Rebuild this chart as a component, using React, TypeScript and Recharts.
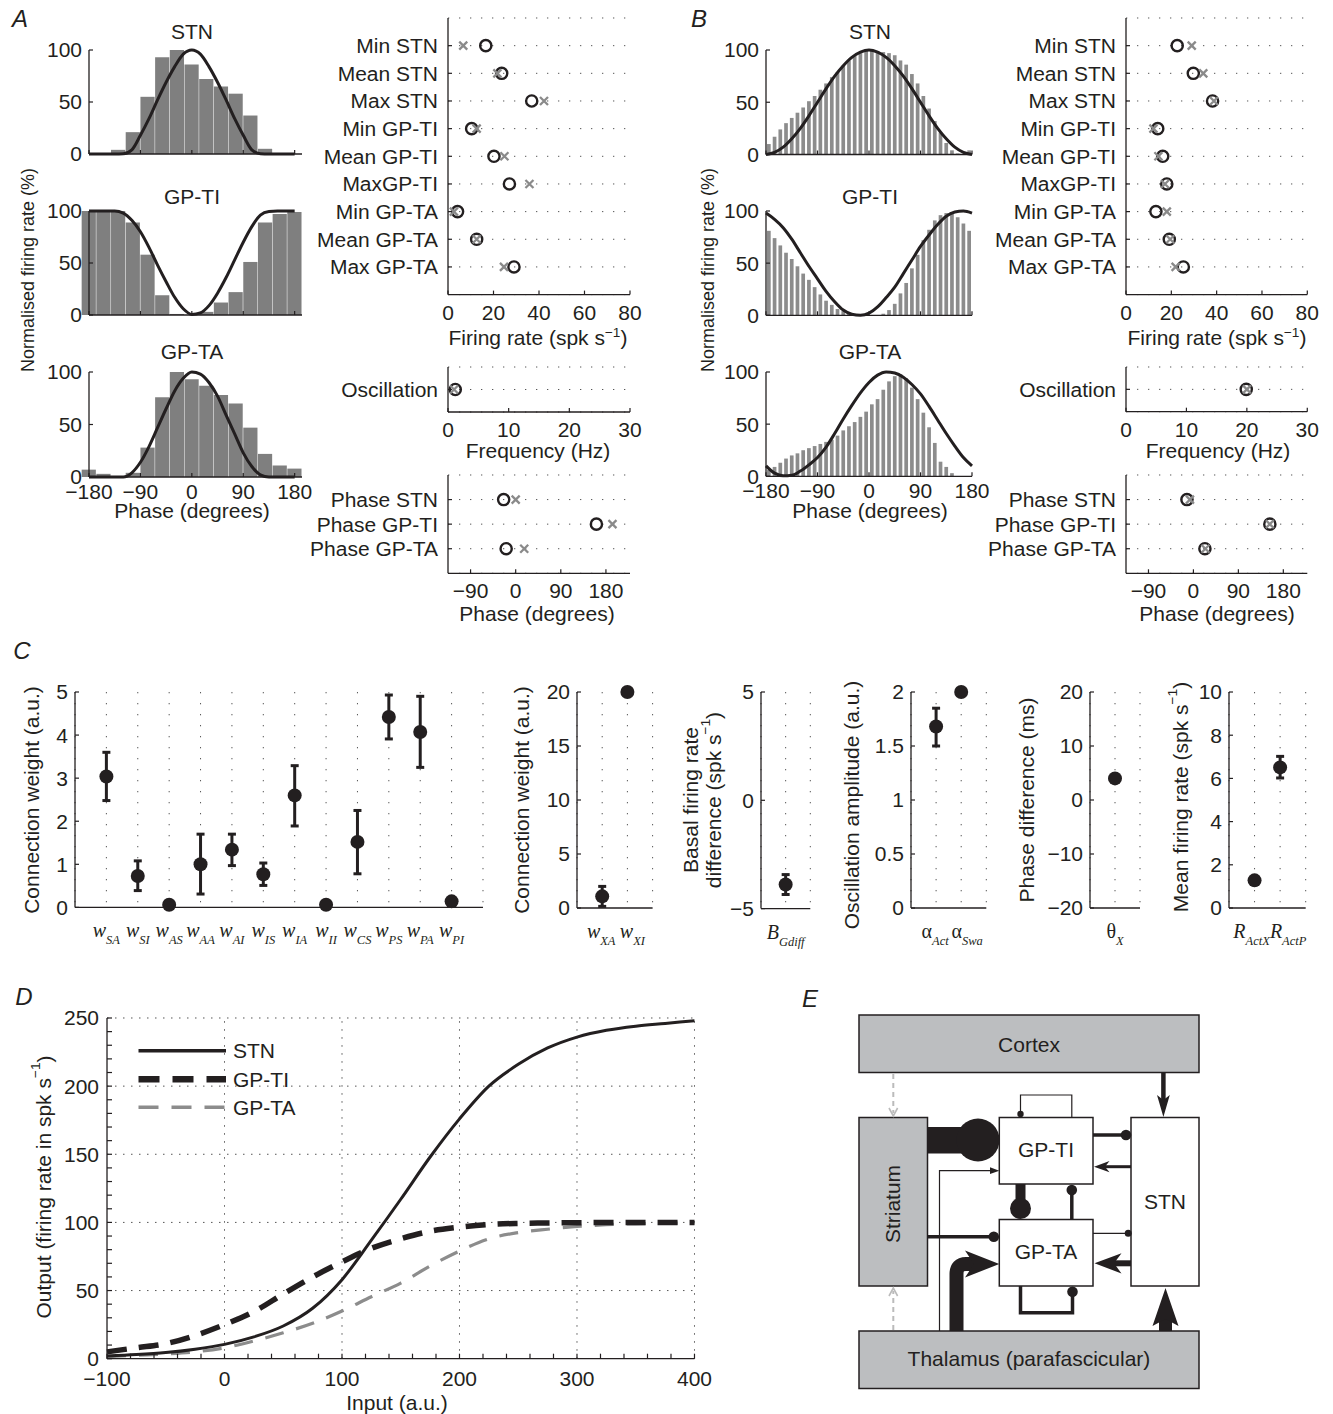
import React from "react";
import {
  Bar,
  BarChart,
  CartesianGrid,
  ErrorBar,
  Line,
  LineChart,
  ReferenceLine,
  Scatter,
  ScatterChart,
  XAxis,
  YAxis,
} from "recharts";

const FONT = "'Liberation Sans', Arial, Helvetica, sans-serif";
const SERIF = "'Liberation Serif', 'Times New Roman', serif";
const INK = "#231f20";
const BAR_A = "#7f7f7f";
const BAR_B = "#8c8c8c";
const CROSS = "#8a8a8a";
const DOTS = "#555";
const E_GREY = "#bcbec0";

// ---------- A / B: phase histograms + fitted curves ----------
const BIN_A = [-180, -154.3, -128.6, -102.9, -77.1, -51.4, -25.7, 0, 25.7, 51.4, 77.1, 102.9, 128.6, 154.3, 180];
const BIN_B = [
  -175, -165, -155, -145, -135, -125, -115, -105, -95, -85, -75, -65, -55, -45, -35, -25, -15, -5,
  5, 15, 25, 35, 45, 55, 65, 75, 85, 95, 105, 115, 125, 135, 145, 155, 165, 175,
];
const FIT_X = [-180, -165, -150, -135, -120, -105, -90, -75, -60, -45, -30, -15, 0, 15, 30, 45, 60, 75, 90, 105, 120, 135, 150, 165, 180];
const PHASE_TICKS = [-180, -90, 0, 90, 180];

const A_STN_HIST = [0, 0, 4, 21, 55, 93, 100, 86, 72, 65, 58, 37, 5, 0, 0];
const A_STN_FIT = [0, 0, 0, 0, 0.2, 4, 18, 34, 52, 69, 84, 96, 100, 96, 84, 69, 52, 34, 18, 4, 0.2, 0, 0, 0, 0];
const A_GPTI_HIST = [100, 100, 100, 89, 58, 19, 1, 0, 3, 12, 22, 51, 89, 97, 99];
const A_GPTI_FIT = [100, 100, 100, 100, 98, 91, 80, 65, 48, 32, 17, 6, 0.5, 2, 9, 21, 36, 53, 70, 85, 96, 99.5, 100, 100, 100];
const A_GPTA_HIST = [7, 3, 0, 4, 28, 76, 100, 93, 87, 78, 70, 47, 22, 11, 8];
const A_GPTA_FIT = [0, 0, 0, 0, 0, 4, 14, 29, 47, 65, 82, 94, 100, 98, 90, 77, 59, 41, 23, 10, 2, 0, 0, 0, 0];

const B_STN_HIST = [
  10, 17, 24, 30, 35, 40, 45, 51, 56, 62, 68, 74, 79, 85, 90, 95, 97, 99,
  100, 99, 98, 97, 95, 90, 86, 77, 68, 56, 44, 32, 21, 11, 4, 1, 0, 4,
];
const B_STN_FIT = [0, 2, 7, 15, 25, 37, 50, 63, 75, 85, 93, 98, 100, 98, 93, 85, 75, 63, 50, 37, 25, 15, 7, 2, 0];
const B_GPTI_HIST = [
  81, 74, 67, 60, 54, 47, 40, 34, 27, 20, 14, 10, 6, 4, 2, 1, 0.3, 0,
  0, 0, 1.5, 5, 11, 21, 31, 45, 58, 72, 82, 91, 96, 98, 99, 94, 88, 81,
];
const B_GPTI_FIT = [98, 92, 84, 73, 60, 47, 35, 23, 13, 5, 1, 0, 2, 8, 17, 27, 40, 53, 66, 77, 87, 95, 99, 100, 98];
const B_GPTA_HIST = [
  6, 9, 13, 17, 20, 22, 25, 27, 29, 31, 33, 35, 39, 44, 48, 52, 57, 62,
  69, 74, 83, 91, 96, 98, 94, 85, 74, 61, 47, 32, 14, 9, 3, 0, 0, 0,
];
const B_GPTA_FIT = [10, 3, 0.5, 1, 5, 11, 18, 28, 41, 55, 68, 80, 90, 97, 100, 99, 95, 88, 79, 67, 54, 41, 29, 18, 10];

// ---------- A / B: model (circles) vs experiment (crosses) ----------
const ROWS_RATE = ["Min STN", "Mean STN", "Max STN", "Min GP-TI", "Mean GP-TI", "MaxGP-TI", "Min GP-TA", "Mean GP-TA", "Max GP-TA"];
const ROWS_OSC = ["Oscillation"];
const ROWS_PHASE = ["Phase STN", "Phase GP-TI", "Phase GP-TA"];
const RATE_TICKS = [0, 20, 40, 60, 80];
const OSC_TICKS = [0, 10, 20, 30];
const PH_TICKS = [-90, 0, 90, 180];

const A_RATE_MODEL = [16.6, 23.6, 36.8, 10.4, 20.2, 27.0, 4.2, 12.6, 29.0];
const A_RATE_EXP = [6.7, 21.7, 42.2, 12.6, 24.8, 35.8, 2.6, 12.6, 24.6];
const A_OSC_MODEL = [1.2];
const A_OSC_EXP = [1.0];
const A_PHASE_MODEL = [-24, 161, -19];
const A_PHASE_EXP = [0, 193, 17];

const B_RATE_MODEL = [22.6, 29.7, 38.2, 14.0, 16.2, 18.0, 13.2, 19.1, 25.3];
const B_RATE_EXP = [29.0, 34.1, 38.8, 12.1, 14.3, 17.2, 18.0, 19.5, 21.9];
const B_OSC_MODEL = [19.9];
const B_OSC_EXP = [20.0];
const B_PHASE_MODEL = [-13, 153, 23];
const B_PHASE_EXP = [-7, 153, 24];

// ---------- C: fitted parameters ----------
const C1_LABELS = [["w", "SA"], ["w", "SI"], ["w", "AS"], ["w", "AA"], ["w", "AI"], ["w", "IS"], ["w", "IA"], ["w", "II"], ["w", "CS"], ["w", "PS"], ["w", "PA"], ["w", "PI"]];
const C1_MEAN = [3.04, 0.73, 0.06, 1.0, 1.34, 0.77, 2.6, 0.06, 1.52, 4.42, 4.07, 0.14];
const C1_LOW = [2.48, 0.39, 0.06, 0.31, 0.97, 0.51, 1.89, 0.06, 0.78, 3.91, 3.25, 0.14];
const C1_HIGH = [3.6, 1.08, 0.06, 1.7, 1.7, 1.03, 3.29, 0.06, 2.25, 4.93, 4.9, 0.14];

const C2_LABELS = [["w", "XA"], ["w", "XI"]];
const C2_MEAN = [1.08, 20];
const C2_LOW = [0.15, 20];
const C2_HIGH = [2.0, 20];

const C3_LABELS = [["B", "Gdiff"]];
const C3_MEAN = [-3.89];
const C3_LOW = [-4.35];
const C3_HIGH = [-3.43];

const C4_LABELS = [["α", "Act"], ["α", "Swa"]];
const C4_MEAN = [1.68, 2.0];
const C4_LOW = [1.5, 2.0];
const C4_HIGH = [1.85, 2.0];

const C5_LABELS = [["θ", "X"]];
const C5_MEAN = [4.0];
const C5_LOW = [4.0];
const C5_HIGH = [4.0];

const C6_LABELS = [["R", "ActX"], ["R", "ActP"]];
const C6_MEAN = [1.28, 6.51];
const C6_LOW = [1.28, 6.02];
const C6_HIGH = [1.28, 7.02];

// ---------- D: transfer functions ----------
const D_INPUT = [-100, -75, -50, -25, 0, 25, 50, 75, 100, 125, 150, 175, 200, 225, 250, 275, 300, 325, 350, 375, 400];
const D_STN = [2, 3, 4.5, 7, 10.5, 16, 24, 37, 58, 87, 117, 148, 176, 200, 216, 228, 236, 241, 244, 246, 248];
const D_GPTI = [5, 8, 11, 17, 25, 34.5, 47.5, 60, 71, 81, 88, 93.5, 96.5, 98.5, 99.3, 99.6, 99.8, 99.9, 100, 100, 100];
const D_GPTA = [1.5, 2.5, 3.5, 5, 8, 13, 19, 26, 35, 45.5, 55.5, 68, 79, 88, 92.5, 95, 97, 98.3, 99, 99.4, 99.7];
const D_X_TICKS = [-100, -80, -60, -40, -20, 0, 20, 40, 60, 80, 100, 120, 140, 160, 180, 200, 220, 240, 260, 280, 300, 320, 340, 360, 380, 400];
const D_Y_TICKS = [0, 10, 20, 30, 40, 50, 60, 70, 80, 90, 100, 110, 120, 130, 140, 150, 160, 170, 180, 190, 200, 210, 220, 230, 240, 250];
const D_GRID_X = [0, 100, 200, 300, 400];
const D_GRID_Y = [50, 100, 150, 200, 250];

// ---------- helpers ----------
type Plot = { x0: number; y0: number; x1: number; y1: number };
const PAD = 10;
const XH = 50;

function box(p: Plot, yw: number, mr = PAD) {
  return {
    style: {
      position: "absolute" as const,
      left: p.x0 - yw,
      top: p.y0 - PAD,
      pointerEvents: "none" as const,
    },
    width: yw + (p.x1 - p.x0) + mr,
    height: PAD + (p.y1 - p.y0) + XH,
    margin: { top: PAD, right: mr, bottom: 0, left: 0 },
  };
}

const fmt = (v: number) => (v < 0 ? `\u2212${Math.abs(v)}` : `${v}`);
const tickText = { fontSize: 21, fill: INK, fontFamily: FONT };
const axisLine = { stroke: INK, strokeWidth: 1.3 };
const tickLine = { stroke: INK, strokeWidth: 1.2 };

function Txt({ x, y, size = 21, italic = false, children }: any) {
  return (
    <div
      style={{
        position: "absolute",
        left: x,
        top: y,
        transform: "translate(-50%, -50%)",
        fontSize: size,
        lineHeight: 1,
        whiteSpace: "nowrap",
        fontStyle: italic ? "italic" : "normal",
      }}
    >
      {children}
    </div>
  );
}

const Sup = ({ children }: any) => (
  <span style={{ fontSize: "0.65em", verticalAlign: "0.6em" }}>{children}</span>
);

// rotated (bottom-to-top) axis title, drawn inside the overlay svg
function VLabel({ x, y, size = 21, text, sup }: any) {
  return (
    <text
      transform={`translate(${x},${y}) rotate(-90)`}
      textAnchor="middle"
      dominantBaseline="central"
      fontSize={size}
      fill={INK}
    >
      {text}
      {sup ? (
        <>
          <tspan fontSize={size * 0.65} dy={-size * 0.4}>{sup}</tspan>
          <tspan dy={size * 0.4}>)</tspan>
        </>
      ) : null}
    </text>
  );
}

const ring = (p: any) => (
  <circle cx={p.cx} cy={p.cy} r={5.6} fill="none" stroke={INK} strokeWidth={2.4} />
);
const cross = (p: any) => (
  <path
    d={`M${p.cx - 4},${p.cy - 4}L${p.cx + 4},${p.cy + 4}M${p.cx - 4},${p.cy + 4}L${p.cx + 4},${p.cy - 4}`}
    stroke={CROSS}
    strokeWidth={2.3}
    fill="none"
  />
);
const dot = (p: any) => <circle cx={p.cx} cy={p.cy} r={7} fill={INK} />;

function PhaseHist({ plot, bins, values, fit, xDomain, barSize, fill, labels }: any) {
  const yw = 70;
  const b = box(plot, yw, 25);
  const bars = bins.map((x: number, i: number) => ({ x, v: values[i] }));
  const curve = FIT_X.map((x, i) => ({ x, v: fit[i] }));
  return (
    <>
      <div style={b.style}>
        <BarChart width={b.width} height={b.height} margin={b.margin} data={bars}>
          <XAxis
            type="number"
            dataKey="x"
            domain={xDomain}
            ticks={PHASE_TICKS}
            interval={0}
            height={XH}
            tickFormatter={labels ? fmt : () => ""}
            tickSize={-4}
            tickMargin={11}
            tick={tickText}
            axisLine={axisLine}
            tickLine={tickLine}
          />
          <YAxis
            type="number"
            domain={[0, 100]}
            ticks={[0, 50, 100]}
            interval={0}
            width={yw}
            tickSize={-4}
            tickMargin={11}
            tick={tickText}
            axisLine={axisLine}
            tickLine={tickLine}
          />
          <Bar dataKey="v" fill={fill} barSize={barSize} isAnimationActive={false} />
        </BarChart>
      </div>
      <div style={b.style}>
        <LineChart
          width={b.width}
          height={b.height}
          margin={{ top: PAD, right: 25, bottom: XH, left: yw }}
          data={curve}
        >
          <XAxis type="number" dataKey="x" domain={xDomain} hide />
          <YAxis type="number" domain={[0, 100]} hide />
          <Line dataKey="v" type="monotone" stroke={INK} strokeWidth={3} dot={false} isAnimationActive={false} />
        </LineChart>
      </div>
    </>
  );
}

function RowPlot({ plot, rows, model, exp, xDomain, xTicks }: any) {
  const b = box(plot, 160, 25);
  const n = rows.length;
  const circles = model.map((x: number, i: number) => ({ x, y: i + 1 }));
  const crosses = exp.map((x: number, i: number) => ({ x, y: i + 1 }));
  return (
    <div style={b.style}>
      <ScatterChart width={b.width} height={b.height} margin={b.margin}>
        <CartesianGrid vertical={false} stroke={DOTS} strokeDasharray="1.3 9.7" />
        <XAxis
          type="number"
          dataKey="x"
          domain={xDomain}
          ticks={xTicks}
          interval={0}
          height={XH}
          tickFormatter={fmt}
          tickSize={-4}
          tickMargin={14}
          tick={tickText}
          axisLine={axisLine}
          tickLine={tickLine}
        />
        <YAxis
          type="number"
          dataKey="y"
          domain={[0, n + 1]}
          reversed
          ticks={rows.map((_: string, i: number) => i + 1)}
          interval={0}
          width={160}
          tickFormatter={(v: number) => rows[v - 1] ?? ""}
          tickSize={-4}
          tickMargin={14}
          tick={tickText}
          axisLine={axisLine}
          tickLine={tickLine}
        />
        <Scatter data={circles} shape={ring} isAnimationActive={false} />
        <Scatter data={crosses} shape={cross} isAnimationActive={false} />
      </ScatterChart>
    </div>
  );
}

function SymbolTick(props: any) {
  const { x, y, payload, labels, shift } = props;
  const i = payload.value - 1;
  const lab = labels[i];
  if (!lab) return null;
  const greek = lab[0] === "α" || lab[0] === "θ";
  return (
    <text x={x + (shift?.[i] ?? 0)} y={y + 30} textAnchor="middle" fill={INK} fontFamily={SERIF} fontStyle="italic">
      <tspan fontSize={20} fontStyle={greek ? "normal" : "italic"}>{lab[0]}</tspan>
      <tspan fontSize={12.5} dy={7}>{lab[1]}</tspan>
    </text>
  );
}

function ParamPlot({ plot, labels, mean, low, high, yDomain, yTicks, shift }: any) {
  const yw = 70;
  const b = box(plot, yw, 20);
  const pts = mean.map((y: number, i: number) => ({ x: i + 1, y, err: [y - low[i], high[i] - y] }));
  return (
    <div style={b.style}>
      <ScatterChart width={b.width} height={b.height} margin={b.margin}>
        <CartesianGrid horizontal={false} stroke={DOTS} strokeDasharray="1.3 9.7" />
        <XAxis
          type="number"
          dataKey="x"
          domain={[0, labels.length + 1]}
          ticks={labels.map((_: any, i: number) => i + 1)}
          interval={0}
          height={XH}
          tickLine={false}
          tickSize={0}
          tickMargin={0}
          tick={(p: any) => <SymbolTick {...p} labels={labels} shift={shift} />}
          axisLine={axisLine}
        />
        <YAxis
          type="number"
          dataKey="y"
          domain={yDomain}
          ticks={yTicks}
          interval={0}
          width={yw}
          tickFormatter={fmt}
          tickSize={-4}
          tickMargin={11}
          tick={tickText}
          axisLine={axisLine}
          tickLine={tickLine}
        />
        <Scatter data={pts} shape={dot} isAnimationActive={false}>
          <ErrorBar dataKey="err" direction="y" width={4} strokeWidth={3} stroke={INK} />
        </Scatter>
      </ScatterChart>
    </div>
  );
}

function TransferPlot() {
  const p = { x0: 107.1, y0: 1018.3, x1: 694.6, y1: 1359 };
  const yw = 90;
  const b = box(p, yw, 30);
  const rows = D_INPUT.map((x, i) => ({ x, stn: D_STN[i], gpti: D_GPTI[i], gpta: D_GPTA[i] }));
  return (
    <div style={b.style}>
      <LineChart width={b.width} height={b.height} margin={b.margin} data={rows}>
        {D_GRID_Y.map((v) => (
          <ReferenceLine key={`y${v}`} y={v} stroke={DOTS} strokeDasharray="1.5 6.5" />
        ))}
        {D_GRID_X.map((v) => (
          <ReferenceLine key={`x${v}`} x={v} stroke={DOTS} strokeDasharray="1.5 6.5" />
        ))}
        <XAxis
          type="number"
          dataKey="x"
          domain={[-100, 400]}
          ticks={D_X_TICKS}
          interval={0}
          height={XH}
          tickFormatter={(v: number) => (v % 100 === 0 ? fmt(v) : "")}
          tickSize={-5}
          tickMargin={17}
          tick={tickText}
          axisLine={axisLine}
          tickLine={tickLine}
        />
        <YAxis
          type="number"
          domain={[0, 250]}
          ticks={D_Y_TICKS}
          interval={0}
          width={yw}
          tickFormatter={(v: number) => (v % 50 === 0 ? fmt(v) : "")}
          tickSize={-5}
          tickMargin={13}
          tick={tickText}
          axisLine={axisLine}
          tickLine={tickLine}
        />
        <Line dataKey="gpta" type="monotone" stroke={BAR_B} strokeWidth={3.2} strokeDasharray="19 13" dot={false} isAnimationActive={false} />
        <Line dataKey="gpti" type="monotone" stroke={INK} strokeWidth={5.5} strokeDasharray="20 12" dot={false} isAnimationActive={false} />
        <Line dataKey="stn" type="monotone" stroke={INK} strokeWidth={3} dot={false} isAnimationActive={false} />
      </LineChart>
    </div>
  );
}

function Overlay() {
  const boxStroke = { stroke: INK, strokeWidth: 1.5 };
  return (
    <svg
      width={1333}
      height={1414}
      style={{ position: "absolute", left: 0, top: 0, pointerEvents: "none" }}
      fontFamily={FONT}
    >
      {/* rotated axis titles */}
      <VLabel x={28} y={270} size={18} text="Normalised firing rate (%)" />
      <VLabel x={708} y={270} size={18} text="Normalised firing rate (%)" />
      <VLabel x={31.7} y={800} text="Connection weight (a.u.)" />
      <VLabel x={521.7} y={800} text="Connection weight (a.u.)" />
      <VLabel x={690} y={800} text="Basal firing rate" />
      <VLabel x={713.3} y={800} text="difference (spk s" sup="−1" />
      <VLabel x={851.7} y={805} text="Oscillation amplitude (a.u.)" />
      <VLabel x={1026.7} y={800} text="Phase difference (ms)" />
      <VLabel x={1180} y={797} text="Mean firing rate (spk s" sup="−1" />
      <VLabel x={43.8} y={1187} text="Output (firing rate in spk s" sup="−1" />

      {/* D legend */}
      <line x1={138.5} y1={1050.7} x2={226} y2={1050.7} stroke={INK} strokeWidth={3.5} />
      <line x1={138.5} y1={1079.3} x2={226} y2={1079.3} stroke={INK} strokeWidth={6.5} strokeDasharray="21 13" />
      <line x1={138.5} y1={1107.3} x2={226} y2={1107.3} stroke={BAR_B} strokeWidth={3.5} strokeDasharray="20 13" />
      <text x={233} y={1058} fontSize={21} fill={INK}>STN</text>
      <text x={233} y={1086.5} fontSize={21} fill={INK}>GP-TI</text>
      <text x={233} y={1114.5} fontSize={21} fill={INK}>GP-TA</text>

      {/* E circuit */}
      <rect x={859} y={1015} width={340} height={57.5} fill={E_GREY} {...boxStroke} />
      <rect x={859} y={1331} width={340} height={57.5} fill={E_GREY} {...boxStroke} />
      <rect x={859} y={1117.5} width={68.5} height={168.5} fill={E_GREY} {...boxStroke} />
      <rect x={999.3} y={1117.5} width={93.7} height={66.5} fill="#fff" {...boxStroke} />
      <rect x={999.3} y={1219.5} width={93.7} height={66.5} fill="#fff" {...boxStroke} />
      <rect x={1131} y={1117.5} width={68} height={168.5} fill="#fff" {...boxStroke} />

      <text x={1029} y={1051.5} fontSize={21} fill={INK} textAnchor="middle">Cortex</text>
      <text x={1029} y={1365.5} fontSize={21} fill={INK} textAnchor="middle">Thalamus (parafascicular)</text>
      <text x={1046} y={1157} fontSize={21} fill={INK} textAnchor="middle">GP-TI</text>
      <text x={1046} y={1259} fontSize={21} fill={INK} textAnchor="middle">GP-TA</text>
      <text x={1165} y={1209} fontSize={21} fill={INK} textAnchor="middle">STN</text>
      <text transform="translate(900,1204) rotate(-90)" fontSize={21} fill={INK} textAnchor="middle">Striatum</text>

      {/* cortex -> STN */}
      <line x1={1163.4} y1={1073} x2={1163.4} y2={1101} stroke={INK} strokeWidth={4.5} />
      <polygon points="1163.4,1117 1157,1095 1163.4,1100 1169.8,1095" fill={INK} />
      {/* dashed grey: cortex -> striatum, thalamus -> striatum */}
      <line x1={893.3} y1={1074} x2={893.3} y2={1113} stroke="#bbb" strokeWidth={2} strokeDasharray="5 4" />
      <polyline points="889,1108 893.3,1116 897.6,1108" stroke="#bbb" strokeWidth={1.6} fill="none" />
      <line x1={893.3} y1={1330} x2={893.3} y2={1291} stroke="#bbb" strokeWidth={2} strokeDasharray="5 4" />
      <polyline points="889,1296 893.3,1288 897.6,1296" stroke="#bbb" strokeWidth={1.6} fill="none" />
      {/* thalamus -> STN */}
      <rect x={1159} y={1318} width={13} height={13} fill={INK} />
      <polygon points="1165.5,1288 1178.5,1326 1165.5,1319 1152.5,1326" fill={INK} />
      {/* striatum -o GP-TI */}
      <rect x={927.5} y={1127} width={50} height={26.5} fill={INK} />
      <circle cx={978} cy={1140} r={21.5} fill={INK} />
      {/* GP-TI self loop */}
      <path d="M1020.5,1114 V1095 H1071.8 V1117.5" stroke={INK} strokeWidth={1.2} fill="none" />
      <circle cx={1020.5} cy={1114} r={3.2} fill={INK} />
      {/* GP-TI -o STN */}
      <line x1={1093} y1={1135} x2={1126} y2={1135} stroke={INK} strokeWidth={3.5} />
      <circle cx={1126} cy={1135} r={5.3} fill={INK} />
      {/* STN -> GP-TI */}
      <line x1={1131} y1={1166.7} x2={1104} y2={1166.7} stroke={INK} strokeWidth={3} />
      <polygon points="1094,1166.7 1109.5,1161 1105,1166.7 1109.5,1172.3" fill={INK} />
      {/* thalamus -> GP-TI (thin) */}
      <path d="M939.5,1331 V1170.7 H992" stroke={INK} strokeWidth={1.2} fill="none" />
      <polygon points="999.3,1170.7 990,1167.3 990,1174.1" fill={INK} />
      {/* GP-TI -o GP-TA */}
      <rect x={1015.5} y={1184} width={10} height={20} fill={INK} />
      <circle cx={1020.5} cy={1208.5} r={10.5} fill={INK} />
      {/* GP-TA -o GP-TI */}
      <line x1={1071.8} y1={1219.5} x2={1071.8} y2={1190} stroke={INK} strokeWidth={3.5} />
      <circle cx={1071.8} cy={1190} r={5.3} fill={INK} />
      {/* striatum -o GP-TA */}
      <line x1={927.5} y1={1236.7} x2={994} y2={1236.7} stroke={INK} strokeWidth={3.5} />
      <circle cx={993.8} cy={1236.7} r={5.3} fill={INK} />
      {/* GP-TA -o STN (thin) */}
      <line x1={1093} y1={1233.3} x2={1128} y2={1233.3} stroke={INK} strokeWidth={1.2} />
      <circle cx={1128.2} cy={1233.3} r={3.5} fill={INK} />
      {/* STN -> GP-TA */}
      <line x1={1131} y1={1263.3} x2={1112} y2={1263.3} stroke={INK} strokeWidth={6} />
      <polygon points="1094.5,1263.3 1121.5,1253.3 1114,1263.3 1121.5,1273.5" fill={INK} />
      {/* thalamus -> GP-TA */}
      <path d="M956.5,1331 V1274 Q956.5,1264 966,1264 H978" stroke={INK} strokeWidth={14} fill="none" />
      <polygon points="999.3,1264 965,1250.5 974,1264 965,1277.5" fill={INK} />
      {/* GP-TA self loop */}
      <path d="M1020.5,1286 V1312.7 H1072.5 V1292" stroke={INK} strokeWidth={3.5} fill="none" />
      <circle cx={1072.5} cy={1291.7} r={5.3} fill={INK} />
    </svg>
  );
}

export default function App() {
  return (
    <div
      style={{
        position: "absolute",
        left: 0,
        top: 0,
        width: 1333,
        height: 1414,
        background: "#fff",
        fontFamily: FONT,
        color: INK,
        overflow: "hidden",
      }}
    >
      {/* panel A */}
      <PhaseHist plot={{ x0: 89, y0: 50, x1: 302, y1: 154 }} bins={BIN_A} values={A_STN_HIST} fit={A_STN_FIT} xDomain={[-180, 192.86]} barSize={14.2} fill={BAR_A} />
      <PhaseHist plot={{ x0: 89, y0: 211, x1: 302, y1: 315 }} bins={BIN_A} values={A_GPTI_HIST} fit={A_GPTI_FIT} xDomain={[-180, 192.86]} barSize={14.2} fill={BAR_A} />
      <PhaseHist plot={{ x0: 89, y0: 372, x1: 302, y1: 477 }} bins={BIN_A} values={A_GPTA_HIST} fit={A_GPTA_FIT} xDomain={[-180, 192.86]} barSize={14.2} fill={BAR_A} labels />
      <RowPlot plot={{ x0: 448, y0: 18.4, x1: 630, y1: 295 }} rows={ROWS_RATE} model={A_RATE_MODEL} exp={A_RATE_EXP} xDomain={[0, 80]} xTicks={RATE_TICKS} />
      <RowPlot plot={{ x0: 448, y0: 367, x1: 630, y1: 412 }} rows={ROWS_OSC} model={A_OSC_MODEL} exp={A_OSC_EXP} xDomain={[0, 30]} xTicks={OSC_TICKS} />
      <RowPlot plot={{ x0: 448, y0: 475, x1: 630, y1: 573.3 }} rows={ROWS_PHASE} model={A_PHASE_MODEL} exp={A_PHASE_EXP} xDomain={[-135, 228]} xTicks={PH_TICKS} />

      {/* panel B */}
      <PhaseHist plot={{ x0: 766, y0: 49.5, x1: 972, y1: 154 }} bins={BIN_B} values={B_STN_HIST} fit={B_STN_FIT} xDomain={[-180, 180]} barSize={3.7} fill={BAR_B} />
      <PhaseHist plot={{ x0: 766, y0: 210.7, x1: 972, y1: 315 }} bins={BIN_B} values={B_GPTI_HIST} fit={B_GPTI_FIT} xDomain={[-180, 180]} barSize={3.7} fill={BAR_B} />
      <PhaseHist plot={{ x0: 766, y0: 371.7, x1: 972, y1: 476 }} bins={BIN_B} values={B_GPTA_HIST} fit={B_GPTA_FIT} xDomain={[-180, 180]} barSize={3.7} fill={BAR_B} labels />
      <RowPlot plot={{ x0: 1126, y0: 18.4, x1: 1307.3, y1: 295 }} rows={ROWS_RATE} model={B_RATE_MODEL} exp={B_RATE_EXP} xDomain={[0, 80]} xTicks={RATE_TICKS} />
      <RowPlot plot={{ x0: 1126, y0: 367, x1: 1307.3, y1: 411.7 }} rows={ROWS_OSC} model={B_OSC_MODEL} exp={B_OSC_EXP} xDomain={[0, 30]} xTicks={OSC_TICKS} />
      <RowPlot plot={{ x0: 1126, y0: 475, x1: 1307.3, y1: 573.3 }} rows={ROWS_PHASE} model={B_PHASE_MODEL} exp={B_PHASE_EXP} xDomain={[-135, 228]} xTicks={PH_TICKS} />

      {/* panel C */}
      <ParamPlot plot={{ x0: 75, y0: 692.3, x1: 483, y1: 907.7 }} labels={C1_LABELS} mean={C1_MEAN} low={C1_LOW} high={C1_HIGH} yDomain={[0, 5]} yTicks={[0, 1, 2, 3, 4, 5]} />
      <ParamPlot plot={{ x0: 576.7, y0: 692.3, x1: 652.3, y1: 908.3 }} labels={C2_LABELS} mean={C2_MEAN} low={C2_LOW} high={C2_HIGH} yDomain={[0, 20]} yTicks={[0, 5, 10, 15, 20]} shift={[-1, 5]} />
      <ParamPlot plot={{ x0: 760.7, y0: 691.7, x1: 810, y1: 908.3 }} labels={C3_LABELS} mean={C3_MEAN} low={C3_LOW} high={C3_HIGH} yDomain={[-5, 5]} yTicks={[-5, 0, 5]} />
      <ParamPlot plot={{ x0: 910.7, y0: 692.3, x1: 986, y1: 908.3 }} labels={C4_LABELS} mean={C4_MEAN} low={C4_LOW} high={C4_HIGH} yDomain={[0, 2]} yTicks={[0, 0.5, 1, 1.5, 2]} shift={[-1, 6]} />
      <ParamPlot plot={{ x0: 1090, y0: 692.3, x1: 1140, y1: 908.3 }} labels={C5_LABELS} mean={C5_MEAN} low={C5_LOW} high={C5_HIGH} yDomain={[-20, 20]} yTicks={[-20, -10, 0, 10, 20]} />
      <ParamPlot plot={{ x0: 1229.3, y0: 692.3, x1: 1306, y1: 908.3 }} labels={C6_LABELS} mean={C6_MEAN} low={C6_LOW} high={C6_HIGH} yDomain={[0, 10]} yTicks={[0, 2, 4, 6, 8, 10]} shift={[-3, 8]} />

      {/* panel D */}
      <TransferPlot />

      <Overlay />

      {/* panel letters */}
      <Txt x={20} y={19} size={24} italic>A</Txt>
      <Txt x={699} y={19} size={24} italic>B</Txt>
      <Txt x={22} y={651} size={24} italic>C</Txt>
      <Txt x={24} y={997} size={24} italic>D</Txt>
      <Txt x={810} y={999} size={24} italic>E</Txt>

      {/* A / B titles and axis labels */}
      <Txt x={192} y={31}>STN</Txt>
      <Txt x={192} y={196}>GP-TI</Txt>
      <Txt x={192} y={351}>GP-TA</Txt>
      <Txt x={870} y={31}>STN</Txt>
      <Txt x={870} y={196}>GP-TI</Txt>
      <Txt x={870} y={351}>GP-TA</Txt>
      <Txt x={192} y={510}>Phase (degrees)</Txt>
      <Txt x={870} y={510}>Phase (degrees)</Txt>
      <Txt x={538} y={337}>Firing rate (spk s<Sup>−1</Sup>)</Txt>
      <Txt x={1217} y={337}>Firing rate (spk s<Sup>−1</Sup>)</Txt>
      <Txt x={538} y={450}>Frequency (Hz)</Txt>
      <Txt x={1218} y={450}>Frequency (Hz)</Txt>
      <Txt x={537} y={613}>Phase (degrees)</Txt>
      <Txt x={1217} y={613}>Phase (degrees)</Txt>

      {/* D axis label */}
      <Txt x={397} y={1402}>Input (a.u.)</Txt>
    </div>
  );
}
